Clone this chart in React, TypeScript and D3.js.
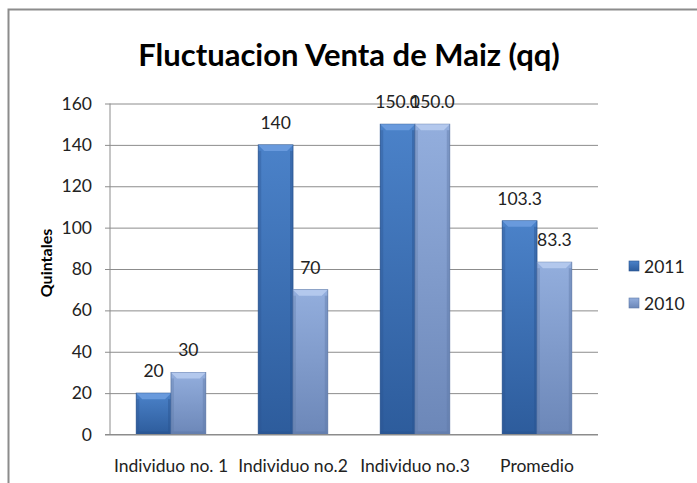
import React, { useEffect, useRef } from "react";
import * as d3 from "d3";

// chart data
const categories = ["Individuo no. 1", "Individuo no.2", "Individuo no.3", "Promedio"];
const seriesNames = ["2011", "2010"];
const values2011 = [20, 140, 150, 103.3];
const values2010 = [30, 70, 150, 83.3];
const labels2011 = ["20", "140", "150.0", "103.3"];
const labels2010 = ["30", "70", "150.0", "83.3"];
const yTicks = [0, 20, 40, 60, 80, 100, 120, 140, 160];

const FONT = "Lato, 'Open Sans', sans-serif";

const App: React.FC = () => {
  const svgRef = useRef<SVGSVGElement | null>(null);

  useEffect(() => {
    const width = 697;
    const height = 483;
    const margin = { top: 103.5, right: 99, bottom: 48.5, left: 110 };
    const innerWidth = width - margin.left - margin.right;
    const innerHeight = height - margin.top - margin.bottom;

    const svg = d3.select(svgRef.current);
    svg.selectAll("*").remove();

    // gradients for the bevelled bars
    const defs = svg.append("defs");
    const palettes = [
      { id: "g2011", top: "#4b82c9", bottom: "#2d5c9c", bevel: "#6f9fe0", edge: "#2a5490" },
      { id: "g2010", top: "#93aedd", bottom: "#6c87b8", bevel: "#b8cdf0", edge: "#5f7aa8" },
    ];
    palettes.forEach((p) => {
      const g = defs
        .append("linearGradient")
        .attr("id", p.id)
        .attr("x1", 0)
        .attr("y1", 0)
        .attr("x2", 0)
        .attr("y2", 1);
      g.append("stop").attr("offset", "0%").attr("stop-color", p.top);
      g.append("stop").attr("offset", "100%").attr("stop-color", p.bottom);
    });

    // outer frame
    svg
      .append("rect")
      .attr("x", 8.5)
      .attr("y", 9.5)
      .attr("width", 720)
      .attr("height", 520)
      .attr("fill", "white")
      .attr("stroke", "#8c8c8c")
      .attr("stroke-width", 2);

    // title
    svg
      .append("text")
      .attr("x", 349)
      .attr("y", 66)
      .attr("text-anchor", "middle")
      .style("font-family", FONT)
      .style("font-weight", "bold")
      .style("font-size", "31px")
      .attr("fill", "#000")
      .text("Fluctuacion Venta de Maiz (qq)");

    const chart = svg
      .append("g")
      .attr("transform", `translate(${margin.left}, ${margin.top})`);

    const x0 = d3.scaleBand<string>().domain(categories).range([0, innerWidth]).paddingInner(0.43).paddingOuter(0.215);
    const x1 = d3.scaleBand<string>().domain(seriesNames).range([0, x0.bandwidth()]);
    const y = d3.scaleLinear().domain([0, 160]).range([innerHeight, 0]);

    // gridlines + y tick labels
    const yAxis = chart
      .append("g")
      .call(
        d3
          .axisLeft(y)
          .tickValues(yTicks)
          .tickSize(-innerWidth)
          .tickSizeOuter(0)
          .tickPadding(18)
      );
    yAxis.select(".domain").remove();
    yAxis
      .selectAll(".tick line")
      .attr("x1", -5)
      .attr("stroke", "#8c8c8c")
      .attr("stroke-width", 1);
    yAxis
      .selectAll(".tick text")
      .style("font-family", FONT)
      .style("font-size", "17.5px")
      .attr("fill", "#222");

    // vertical axis line
    chart
      .append("line")
      .attr("x1", 0)
      .attr("x2", 0)
      .attr("y1", 0)
      .attr("y2", innerHeight)
      .attr("stroke", "#8c8c8c");

    // category labels
    chart
      .selectAll(".cat")
      .data(categories)
      .enter()
      .append("text")
      .attr("x", (d) => (x0(d) as number) + x0.bandwidth() / 2)
      .attr("y", innerHeight + 37)
      .attr("text-anchor", "middle")
      .style("font-family", FONT)
      .style("font-size", "17.5px")
      .attr("fill", "#222")
      .text((d) => d);

    // y-axis title
    svg
      .append("text")
      .attr("transform", `translate(52, ${margin.top + innerHeight / 2 - 6}) rotate(-90)`)
      .attr("text-anchor", "middle")
      .style("font-family", FONT)
      .style("font-weight", "bold")
      .style("font-size", "16px")
      .attr("fill", "#000")
      .text("Quintales");

    // bars
    const series = [
      { name: seriesNames[0], values: values2011, labels: labels2011, pal: palettes[0] },
      { name: seriesNames[1], values: values2010, labels: labels2010, pal: palettes[1] },
    ];

    series.forEach((s) => {
      const g = chart.append("g");
      categories.forEach((c, i) => {
        const bx = (x0(c) as number) + (x1(s.name) as number);
        const bw = x1.bandwidth();
        const by = y(s.values[i]);
        const bh = innerHeight - by;
        const bev = 6;
        g.append("rect")
          .attr("x", bx)
          .attr("y", by)
          .attr("width", bw)
          .attr("height", bh)
          .attr("fill", `url(#${s.pal.id})`)
          .attr("stroke", s.pal.edge)
          .attr("stroke-width", 0.8);
        // top bevel
        g.append("polygon")
          .attr(
            "points",
            `${bx},${by} ${bx + bw},${by} ${bx + bw - bev},${by + bev} ${bx + bev},${by + bev}`
          )
          .attr("fill", s.pal.bevel)
          .attr("opacity", 0.85);
        // side shading
        g.append("rect")
          .attr("x", bx)
          .attr("y", by + bev)
          .attr("width", 3)
          .attr("height", Math.max(0, bh - bev - 3))
          .attr("fill", s.pal.edge)
          .attr("opacity", 0.35);
        g.append("rect")
          .attr("x", bx + bw - 3)
          .attr("y", by + bev)
          .attr("width", 3)
          .attr("height", Math.max(0, bh - bev - 3))
          .attr("fill", s.pal.edge)
          .attr("opacity", 0.45);
        g.append("rect")
          .attr("x", bx)
          .attr("y", innerHeight - 3)
          .attr("width", bw)
          .attr("height", 3)
          .attr("fill", s.pal.edge)
          .attr("opacity", 0.6);
        // value label
        g.append("text")
          .attr("x", bx + bw / 2)
          .attr("y", by - 16)
          .attr("text-anchor", "middle")
          .style("font-family", FONT)
          .style("font-size", "17.5px")
          .attr("fill", "#222")
          .text(s.labels[i]);
      });
    });

    // horizontal axis line
    chart
      .append("line")
      .attr("x1", -5)
      .attr("x2", innerWidth)
      .attr("y1", innerHeight)
      .attr("y2", innerHeight)
      .attr("stroke", "#8c8c8c");

    // legend
    const legend = svg.append("g").attr("transform", "translate(629, 266)");
    series.forEach((s, i) => {
      const lg = legend.append("g").attr("transform", `translate(0, ${i * 37})`);
      lg.append("rect")
        .attr("x", 0)
        .attr("y", -5)
        .attr("width", 10)
        .attr("height", 10)
        .attr("fill", `url(#${s.pal.id})`)
        .attr("stroke", s.pal.edge)
        .attr("stroke-width", 0.6);
      lg.append("text")
        .attr("x", 15)
        .attr("y", 6.5)
        .style("font-family", FONT)
        .style("font-size", "17.5px")
        .attr("fill", "#222")
        .text(s.name);
    });
  }, []);

  return (
    <svg
      ref={svgRef}
      width={697}
      height={483}
      style={{ position: "absolute", left: 0, top: 0, background: "white" }}
    />
  );
};

export default App;
